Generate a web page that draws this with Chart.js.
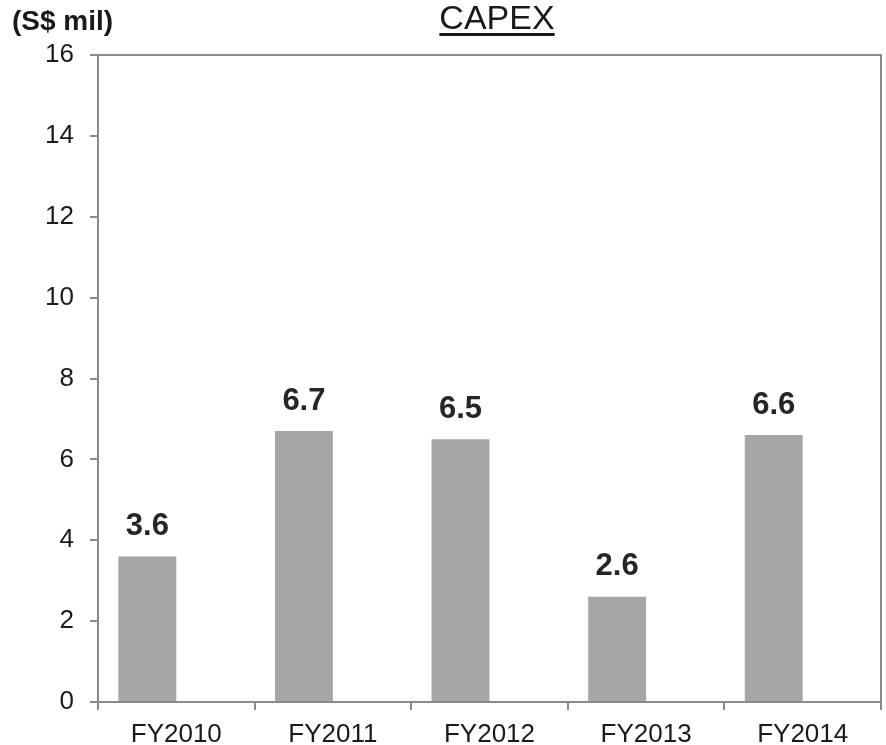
<!DOCTYPE html>
<html lang="en">
<head>
<meta charset="UTF-8">
<title>CAPEX</title>
<script src="https://cdn.jsdelivr.net/npm/chart.js"></script>
<style>
    html, body { margin: 0; padding: 0; background: #ffffff; }
    #wrap { width: 886px; height: 745px; position: relative; }
</style>
</head>
<body>
<div id="wrap"><canvas id="capexChart" width="886" height="745"></canvas></div>
<script>
// Data
const years = ['FY2010', 'FY2011', 'FY2012', 'FY2013', 'FY2014'];
const capex = [3.6, 6.7, 6.5, 2.6, 6.6];
// second (empty) series: the original sits the bars in the left half of each category
const emptySeries = [null, null, null, null, null];
const yTicks = [0, 2, 4, 6, 8, 10, 12, 14, 16];

const axisGrey = '#8a8a8a';
const textColor = '#1a1a1a';
const fontFam = '"Liberation Sans", Arial, sans-serif';

// title, unit label, plot frame and value labels drawn on the canvas
const annotate = {
    id: 'annotate',
    afterDatasetsDraw(chart) {
        const ctx = chart.ctx;
        const a = chart.chartArea;
        ctx.save();
        // top and right frame lines
        ctx.strokeStyle = axisGrey;
        ctx.lineWidth = 2;
        ctx.beginPath();
        ctx.moveTo(a.left, a.top);
        ctx.lineTo(a.right, a.top);
        ctx.lineTo(a.right, a.bottom);
        ctx.stroke();
        // unit
        ctx.fillStyle = textColor;
        ctx.font = 'bold 28px ' + fontFam;
        ctx.textAlign = 'left';
        ctx.textBaseline = 'alphabetic';
        ctx.fillText('(S$ mil)', 12, 30);
        // title with underline
        ctx.font = '34px ' + fontFam;
        ctx.textAlign = 'center';
        const cx = 497;
        ctx.fillText('CAPEX', cx, 29);
        const w = ctx.measureText('CAPEX').width;
        ctx.fillRect(cx - w / 2, 33, w, 3);
        // values above bars
        ctx.font = 'bold 31px ' + fontFam;
        ctx.fillStyle = '#262626';
        ctx.textBaseline = 'middle';
        chart.getDatasetMeta(0).data.forEach((bar, i) => {
            ctx.fillText(capex[i].toFixed(1), bar.x, bar.y - 30);
        });
        ctx.restore();
    }
};

new Chart(document.getElementById('capexChart').getContext('2d'), {
    type: 'bar',
    data: {
        labels: years,
        datasets: [{
            data: capex,
            backgroundColor: '#a6a6a6',
            borderWidth: 0
        }, {
            data: emptySeries,
            backgroundColor: '#a6a6a6',
            borderWidth: 0
        }]
    },
    options: {
        responsive: false,
        animation: false,
        datasets: { bar: { barPercentage: 1, categoryPercentage: 0.74 } },
        layout: { padding: { top: 55, right: 5, left: 0, bottom: 0 } },
        plugins: {
            legend: { display: false },
            tooltip: { enabled: false }
        },
        scales: {
            x: {
                grid: { offset: true, drawOnChartArea: false, color: axisGrey, lineWidth: 2, tickLength: 8 },
                border: { color: axisGrey, width: 2 },
                ticks: { color: textColor, font: { size: 26, family: fontFam }, padding: 9 },
                afterFit(s) { s.height = 43; }
            },
            y: {
                min: 0,
                max: 16,
                afterBuildTicks(s) { s.ticks = yTicks.map(v => ({ value: v })); },
                grid: { drawOnChartArea: false, color: axisGrey, lineWidth: 2, tickLength: 8 },
                border: { color: axisGrey, width: 2 },
                ticks: { color: textColor, font: { size: 26, family: fontFam }, padding: 16 },
                afterFit(s) { s.width = 98; }
            }
        }
    },
    plugins: [annotate]
});
</script>
</body>
</html>
